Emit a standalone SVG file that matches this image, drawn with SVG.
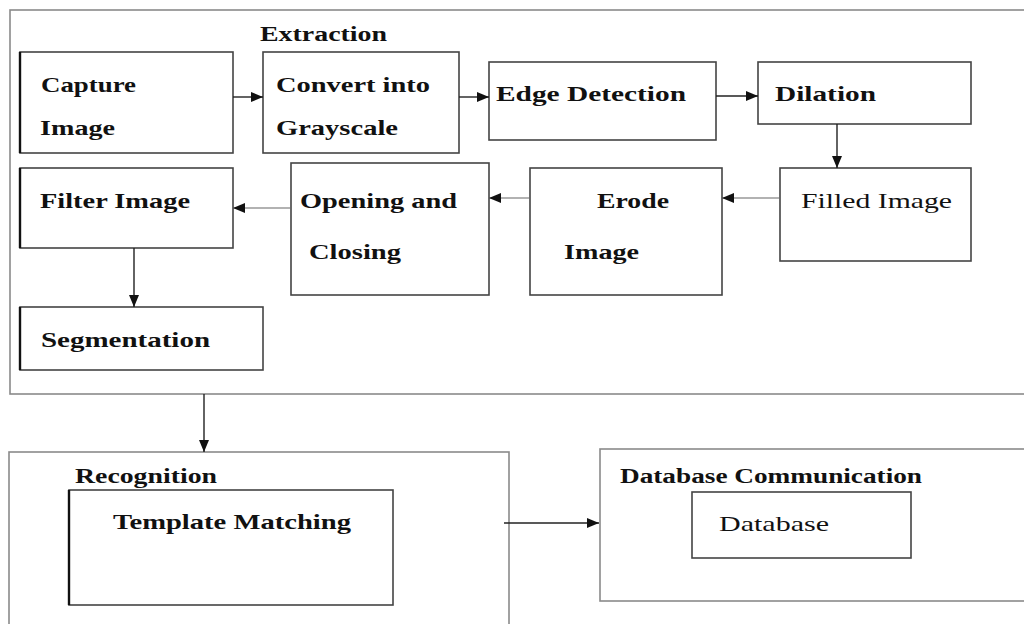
<svg xmlns="http://www.w3.org/2000/svg" width="1024" height="624" viewBox="0 0 1024 624">
<style>
.bg{fill:#fff}
.outer{fill:none;stroke:#8a8a8a;stroke-width:1.6}
.box{fill:#fff;stroke:#444;stroke-width:1.6}
.lb{stroke:#111;stroke-width:2.4}
.t{font-family:"Liberation Serif","Times New Roman",serif;font-size:22px;fill:#111;font-weight:bold}
.h{font-size:20px}
.r{font-weight:normal}
.c{stroke:#222;stroke-width:1.4;fill:none;marker-end:url(#ah)}
.cl{stroke:#666;stroke-width:1.2;fill:none;marker-end:url(#ah)}
</style>
<defs>
<marker id="ah" markerUnits="userSpaceOnUse" markerWidth="12" markerHeight="10" refX="12" refY="5" orient="auto">
<path d="M0,0 L12,5 L0,10 Z" fill="#111"/>
</marker>
</defs>
<rect class="bg" x="0" y="0" width="1024" height="624"/>
<g id="extraction">
<rect class="outer" x="10" y="10" width="1030" height="384"/>
<text class="t h" x="260" y="41" textLength="127" lengthAdjust="spacingAndGlyphs">Extraction</text>
</g>
<g id="capture">
<rect class="box" x="20" y="52" width="213" height="101"/>
<line class="lb" x1="20" y1="52" x2="20" y2="153"/>
<text class="t" x="41" y="92" textLength="95" lengthAdjust="spacingAndGlyphs">Capture</text>
<text class="t" x="40" y="135" textLength="75" lengthAdjust="spacingAndGlyphs">Image</text>
</g>
<g id="convert">
<rect class="box" x="263" y="52" width="196" height="101"/>
<text class="t" x="276" y="92" textLength="154" lengthAdjust="spacingAndGlyphs">Convert into</text>
<text class="t" x="276" y="135" textLength="122" lengthAdjust="spacingAndGlyphs">Grayscale</text>
</g>
<g id="edge">
<rect class="box" x="489" y="62" width="227" height="78"/>
<text class="t" x="496" y="101" textLength="190" lengthAdjust="spacingAndGlyphs">Edge Detection</text>
</g>
<g id="dilation">
<rect class="box" x="758" y="62" width="213" height="62"/>
<text class="t" x="775" y="101" textLength="101" lengthAdjust="spacingAndGlyphs">Dilation</text>
</g>
<g id="filled">
<rect class="box" x="780" y="168" width="191" height="93"/>
<text class="t r" x="801" y="208" textLength="151" lengthAdjust="spacingAndGlyphs">Filled Image</text>
</g>
<g id="erode">
<rect class="box" x="530" y="168" width="192" height="127"/>
<text class="t" x="597" y="208" textLength="72" lengthAdjust="spacingAndGlyphs">Erode</text>
<text class="t" x="564" y="259" textLength="75" lengthAdjust="spacingAndGlyphs">Image</text>
</g>
<g id="opening">
<rect class="box" x="291" y="163" width="198" height="132"/>
<text class="t" x="300" y="208" textLength="157" lengthAdjust="spacingAndGlyphs">Opening and</text>
<text class="t" x="309" y="259" textLength="92" lengthAdjust="spacingAndGlyphs">Closing</text>
</g>
<g id="filter">
<rect class="box" x="20" y="168" width="213" height="80"/>
<line class="lb" x1="20" y1="168" x2="20" y2="248"/>
<text class="t" x="40" y="208" textLength="150" lengthAdjust="spacingAndGlyphs">Filter Image</text>
</g>
<g id="segmentation">
<rect class="box" x="20" y="307" width="243" height="63"/>
<line class="lb" x1="20" y1="307" x2="20" y2="370"/>
<text class="t" x="41" y="347" textLength="169" lengthAdjust="spacingAndGlyphs">Segmentation</text>
</g>
<g id="recognition">
<rect class="outer" x="9" y="452" width="500" height="190"/>
<text class="t h" x="75" y="483" textLength="142" lengthAdjust="spacingAndGlyphs">Recognition</text>
</g>
<g id="template">
<rect class="box" x="69" y="490" width="324" height="115"/>
<line class="lb" x1="69" y1="490" x2="69" y2="605"/>
<text class="t" x="113" y="529" textLength="238" lengthAdjust="spacingAndGlyphs">Template Matching</text>
</g>
<g id="dbcomm">
<rect class="outer" x="600" y="449" width="440" height="152"/>
<text class="t h" x="620" y="483" textLength="302" lengthAdjust="spacingAndGlyphs">Database Communication</text>
</g>
<g id="database">
<rect class="box" x="692" y="492" width="219" height="66"/>
<text class="t r" x="719" y="531" textLength="110" lengthAdjust="spacingAndGlyphs">Database</text>
</g>
<g id="connectors">
<line class="c" x1="233" y1="97" x2="263" y2="97"/>
<line class="c" x1="459" y1="97" x2="489" y2="97"/>
<line class="c" x1="716" y1="96" x2="758" y2="96"/>
<line class="c" x1="837" y1="124" x2="837" y2="168"/>
<line class="cl" x1="780" y1="198" x2="722" y2="198"/>
<line class="cl" x1="530" y1="198" x2="489" y2="198"/>
<line class="cl" x1="291" y1="208" x2="233" y2="208"/>
<line class="c" x1="134" y1="248" x2="134" y2="307"/>
<line class="c" x1="204" y1="394" x2="204" y2="452"/>
<line class="c" x1="504" y1="523" x2="599" y2="523"/>
</g>
</svg>
